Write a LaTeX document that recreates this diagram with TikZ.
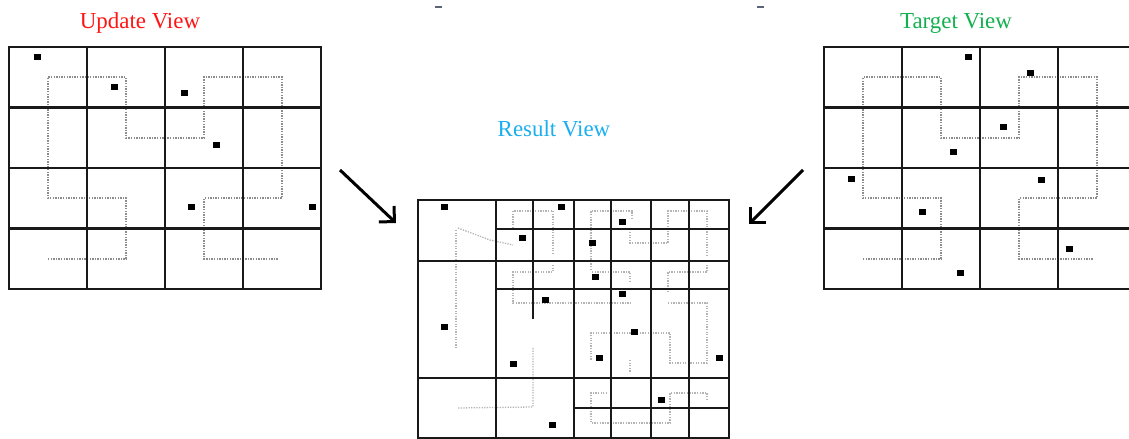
\documentclass[tikz,border=0pt]{standalone}
\usepackage{fontspec}
\setmainfont{Liberation Serif}
\usetikzlibrary{arrows.meta}
\definecolor{UpdRed}{HTML}{FF1414}
\definecolor{TgtGreen}{HTML}{12B04E}
\definecolor{ResBlue}{HTML}{1AAEEF}
\definecolor{Trace}{HTML}{8C8C8C}
\definecolor{FaintTrace}{HTML}{B4B4B4}
\definecolor{Speck}{HTML}{5A6478}

\tikzset{
  cell/.style={line width=2.4bp, line cap=rect, black!90},
  trace/.style={Trace, line width=1.6bp, dash pattern=on 1.4bp off 1.2bp},
  faint/.style={FaintTrace, line width=1.3bp, dash pattern=on 1.3bp off 1.3bp},
  obj/.style={fill=black},
  title/.style={font=\fontsize{23}{26}\selectfont, anchor=base},
  flow/.style={line width=3bp, -{Straight Barb[length=11bp, width=22bp]}},
}

% one 4x4 view with its space-filling trace
\newcommand{\viewgrid}[2]{%
  \begin{scope}[shift={(#1,#2)}, x=78bp, y=-60.5bp]
    \draw[trace] (0.5,3.5) -- (1.5,3.5) -- (1.5,2.5) -- (0.5,2.5) -- (0.5,0.5)
      -- (1.5,0.5) -- (1.5,1.5) -- (2.5,1.5) -- (2.5,0.5) -- (3.5,0.5)
      -- (3.5,2.5) -- (2.5,2.5) -- (2.5,3.5) -- (3.45,3.5);
    \foreach \i in {0,...,4} {
      \draw[cell] (\i,0) -- (\i,4);
      \draw[cell] (0,\i) -- (4,\i);
    }
  \end{scope}}

\begin{document}
\begin{tikzpicture}[x=1bp, y=-1bp]
  \useasboundingbox (0,0) rectangle (1129,439);
  \clip (0,0) rectangle (1129,439);

  % Titles
  \node[title, UpdRed] (updTitle) at (140,29) {Update View};
  \node[title, TgtGreen] (tgtTitle) at (956,29) {Target View};
  \node[title, ResBlue] (resTitle) at (554,137) {Result View};

  % stray marks at the top
  \draw[Speck, line width=1.5bp] (435,7) -- (442,7);
  \draw[Speck, line width=1.5bp] (757,7) -- (764,7);

  % Update view
  \viewgrid{9}{47}
  \foreach \x/\y in {37/57, 114/87, 184/93, 216/145, 191/207, 312/207}
    \fill[obj] (\x-3.5,\y-3) rectangle (\x+3.5,\y+3);

  % Target view
  \viewgrid{824}{47}
  \foreach \x/\y in {968/57, 1030/73, 1003/127, 953/152, 851/179, 1041/180,
                     922/212, 1069/249, 960/273}
    \fill[obj] (\x-3.5,\y-3) rectangle (\x+3.5,\y+3);

  % Result view: faint traces
  \draw[faint] (456,230) -- (456,348);
  \draw[faint] (458,228) -- (490,240) -- (513,245);
  \draw[faint] (513,228) -- (513,211) -- (553,211) -- (553,255);
  \draw[faint] (553,265) -- (553,272) -- (513,272) -- (513,303) -- (632,303);
  \draw[faint] (591,270) -- (591,211) -- (632,211) -- (632,220);
  \draw[faint] (630,232) -- (630,243) -- (668,243) -- (668,211) -- (707,211) -- (707,257);
  \draw[faint] (592,272) -- (630,272) -- (630,282);
  \draw[faint] (668,292) -- (668,272) -- (707,272) -- (707,265);
  \draw[faint] (668,303) -- (707,303) -- (707,363) -- (670,363) -- (670,333)
    -- (591,333) -- (591,360);
  \draw[faint] (630,360) -- (630,373);
  \draw[faint] (607,393) -- (591,393) -- (591,423) -- (670,423) -- (670,393)
    -- (707,393) -- (707,400);
  \draw[faint] (533,348) -- (533,407) -- (457,408);

  % Result view: cells
  \draw[cell] (418,200) rectangle (729,438);
  \foreach \x in {496,574,611,651,689}
    \draw[cell] (\x,200) -- (\x,438);
  \draw[cell] (533,200) -- (533,318);
  \draw[cell] (418,261) -- (729,261);
  \draw[cell] (418,378) -- (729,378);
  \draw[cell] (496,229) -- (729,229);
  \draw[cell] (496,289) -- (729,289);
  \draw[cell] (574,408) -- (729,408);
  \foreach \x/\y in {444/207, 561/207, 622/222, 522/238, 592/243, 595/277,
                     622/294, 545/300, 444/327, 634/332, 599/358, 719/358,
                     513/364, 661/400, 552/425}
    \fill[obj] (\x-3.5,\y-3) rectangle (\x+3.5,\y+3);

  % Merge arrows
  \coordinate (updTail) at (340,170);
  \coordinate (updHead) at (396,223);
  \coordinate (tgtTail) at (803,170);
  \coordinate (tgtHead) at (749,224);
  \draw[flow] (updTail) -- (updHead);
  \draw[flow] (tgtTail) -- (tgtHead);
\end{tikzpicture}
\end{document}
